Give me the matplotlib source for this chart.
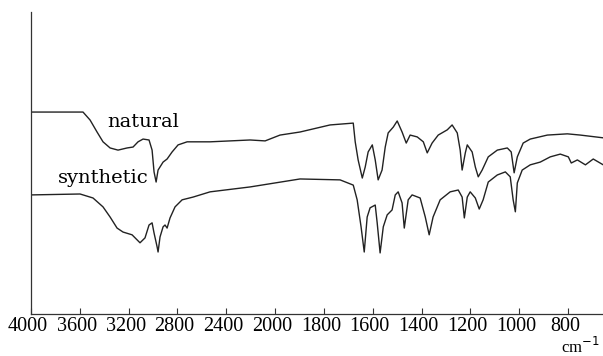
import numpy as np
import matplotlib
matplotlib.use('Agg')
import matplotlib.pyplot as plt
from matplotlib.transforms import ScaledTranslation

# IR spectra (wavenumber in cm-1, transmittance in arbitrary %)
natural_wn = [4000, 3574, 3516, 3459, 3410, 3352, 3287, 3213, 3164, 3123, 3082, 3033, 3008,
              2992, 2975, 2959, 2918, 2885, 2844, 2795, 2721, 2533, 2205, 2082, 1980, 1898,
              1775, 1680, 1672, 1660, 1643, 1631, 1619, 1602, 1590, 1578, 1562, 1549, 1537,
              1516, 1500, 1480, 1463, 1447, 1418, 1393, 1377, 1357, 1332, 1295, 1275, 1254,
              1242, 1234, 1221, 1213, 1193, 1180, 1168, 1152, 1127, 1090, 1049, 1033, 1021,
              1008, 984, 955, 885, 803, 750, 656]
natural_t = [67.4, 67.4, 64.8, 60.9, 57.7, 55.7, 55.0, 55.7, 56.0, 57.7, 58.6, 58.3, 55.0,
             47.9, 44.6, 48.5, 51.1, 52.1, 54.4, 56.7, 57.7, 57.7, 58.3, 58.0, 59.9, 60.9,
             63.2, 63.8, 57.7, 51.8, 45.9, 49.5, 54.4, 56.7, 51.8, 45.3, 48.5, 56.0, 60.6,
             62.5, 64.5, 60.9, 57.3, 59.9, 59.3, 57.7, 54.1, 57.3, 59.9, 61.6, 63.2, 60.6,
             55.0, 48.5, 54.1, 56.7, 54.4, 49.5, 46.3, 48.5, 52.8, 55.0, 55.7, 54.4, 47.6,
             52.8, 57.3, 58.6, 59.9, 60.3, 59.9, 59.0]

synthetic_wn = [4000, 3598, 3492, 3410, 3352, 3295, 3246, 3172, 3107, 3066, 3033, 3008, 2992,
                2967, 2959, 2943, 2918, 2902, 2885, 2861, 2820, 2762, 2672, 2533, 2205, 1898,
                1734, 1680, 1664, 1648, 1635, 1623, 1611, 1590, 1582, 1570, 1557, 1541, 1521,
                1508, 1496, 1480, 1471, 1455, 1439, 1406, 1385, 1369, 1353, 1324, 1283, 1250,
                1234, 1225, 1213, 1201, 1180, 1164, 1148, 1127, 1090, 1057, 1037, 1025, 1016,
                1008, 988, 955, 914, 873, 832, 799, 787, 762, 729, 697, 656]
synthetic_t = [40.4, 40.7, 39.4, 36.5, 33.2, 29.6, 28.3, 27.4, 24.8, 26.4, 30.6, 31.3, 28.0,
               23.5, 21.8, 26.7, 30.0, 30.6, 29.6, 32.9, 36.5, 38.8, 39.7, 41.4, 43.0, 45.6,
               45.3, 43.6, 38.8, 30.0, 21.8, 33.2, 36.2, 37.1, 31.3, 21.5, 30.0, 33.9, 35.5,
               40.4, 41.4, 37.8, 29.6, 38.8, 40.4, 39.4, 33.2, 27.4, 33.2, 38.8, 41.4, 42.0,
               39.7, 32.9, 39.7, 41.4, 39.4, 35.8, 38.8, 44.6, 46.9, 47.9, 46.3, 38.8, 34.9,
               44.3, 48.5, 50.2, 51.1, 52.8, 53.7, 52.8, 50.8, 51.8, 50.2, 52.1, 50.2]

tick_wn = [4000, 3600, 3200, 2800, 2400, 2000, 1800, 1600, 1400, 1200, 1000, 800]


# scale change at 2000 cm-1 (half the spacing above it)
def forward(w):
    w = np.asarray(w, dtype=float)
    return np.where(w >= 2000, w / 400.0, 5 + (w - 2000) / 200.0)


def inverse(u):
    u = np.asarray(u, dtype=float)
    return np.where(u >= 5, u * 400.0, 2000 + (u - 5) * 200.0)


fig = plt.figure(figsize=(6.03, 3.56), dpi=100)
ax = fig.add_axes([31 / 603, 42 / 356, 1 - 31 / 603, 302 / 356])
ax.set_xscale('function', functions=(forward, inverse))

ax.plot(natural_wn, natural_t, color='#222222', lw=1.0)
ax.plot(synthetic_wn, synthetic_t, color='#222222', lw=1.0)

ax.set_xlim(4000, 657)
ax.set_ylim(1.6, 100)

ax.set_xticks(tick_wn)
ax.set_xticklabels([str(t) for t in tick_wn], family='Liberation Serif', fontsize=14.5)
ax.tick_params(axis='x', direction='in', length=4, width=0.8, pad=2, color='#333333')
shift = ScaledTranslation(-3 / 100, 0, fig.dpi_scale_trans)
for lab in ax.get_xticklabels():
    lab.set_transform(lab.get_transform() + shift)
ax.set_yticks([])
for s in ['top', 'right']:
    ax.spines[s].set_visible(False)
for s in ['left', 'bottom']:
    ax.spines[s].set_linewidth(0.9)
    ax.spines[s].set_color('#333333')

ax.text(3082, 62.5, 'natural', family='DejaVu Serif', fontsize=14, ha='center', va='baseline')
ax.text(3410, 44.3, 'synthetic', family='DejaVu Serif', fontsize=14, ha='center', va='baseline')
fig.text(0.995, 0.008, r'cm$^{-1}$', family='Liberation Serif', fontsize=12,
         ha='right', va='baseline')

fig.savefig('out.png', dpi=100)
